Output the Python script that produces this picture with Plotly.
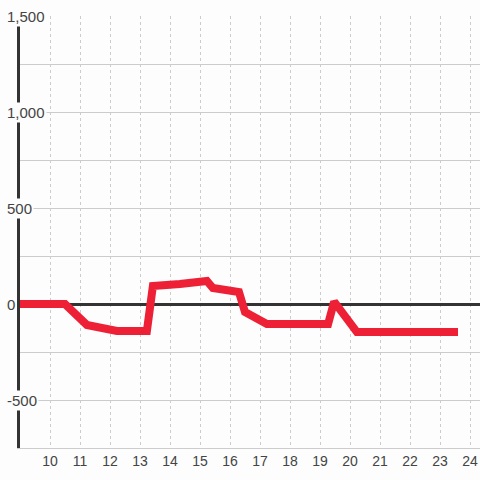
import plotly.graph_objects as go

# series
hours = [9.0, 10.5, 11.23, 12.23, 13.23, 13.43, 14.33, 15.23, 15.43, 16.3, 16.5,
         17.23, 19.27, 19.47, 20.23, 23.6]
values = [0, 0, -109, -140, -140, 94, 104, 120, 83, 62, -42,
          -104, -104, 12, -146, -146]

x_ticks = list(range(10, 25))
y_grid = [-750, -500, -250, 0, 250, 500, 750, 1000, 1250, 1500]
y_labels = [-500, 0, 500, 1000, 1500]

BG = "#fcfdfc"
GRID = "#cccccc"
INK = "#333333"
TEXT = "#444444"

fig = go.Figure(
    go.Scatter(
        x=hours,
        y=values,
        mode="lines",
        line={"color": "#ed2035", "width": 8},
        hoverinfo="skip",
    )
)

# y labels sit over the axis line with a background that masks it
for v in y_labels:
    fig.add_annotation(
        x=0,
        xref="paper",
        y=v,
        yref="y",
        text=f"{v:,}",
        showarrow=False,
        xanchor="left",
        yanchor="middle",
        xshift=-15,
        bgcolor=BG,
        borderpad=1,
        font={"family": "Liberation Sans, Arial, sans-serif", "size": 15, "color": TEXT},
    )

fig.update_layout(
    width=480,
    height=480,
    margin={"l": 20, "r": 0, "t": 16, "b": 32},
    paper_bgcolor=BG,
    plot_bgcolor=BG,
    showlegend=False,
    font={"family": "Liberation Sans, Arial, sans-serif", "size": 14, "color": TEXT},
)
fig.update_xaxes(
    range=[9, 9 + 460 / 30],
    tickmode="array",
    tickvals=x_ticks,
    showgrid=True,
    gridcolor=GRID,
    griddash="3px,3px",
    gridwidth=1,
    zeroline=False,
    showline=True,
    linecolor=GRID,
    linewidth=1,
    ticks="",
    tickfont={"size": 14, "color": TEXT},
)
fig.update_yaxes(
    range=[-750, 1500],
    tickmode="array",
    tickvals=y_grid,
    showticklabels=False,
    showgrid=True,
    gridcolor=GRID,
    gridwidth=1,
    zeroline=True,
    zerolinecolor=INK,
    zerolinewidth=3,
    showline=True,
    linecolor=INK,
    linewidth=3,
    ticks="",
)

# drop the browser's default body margin so the figure fills the window
fig.write_html(
    "out.html",
    config={"displayModeBar": False},
    post_script=f"document.body.style.margin='0';document.body.style.background='{BG}';",
)
